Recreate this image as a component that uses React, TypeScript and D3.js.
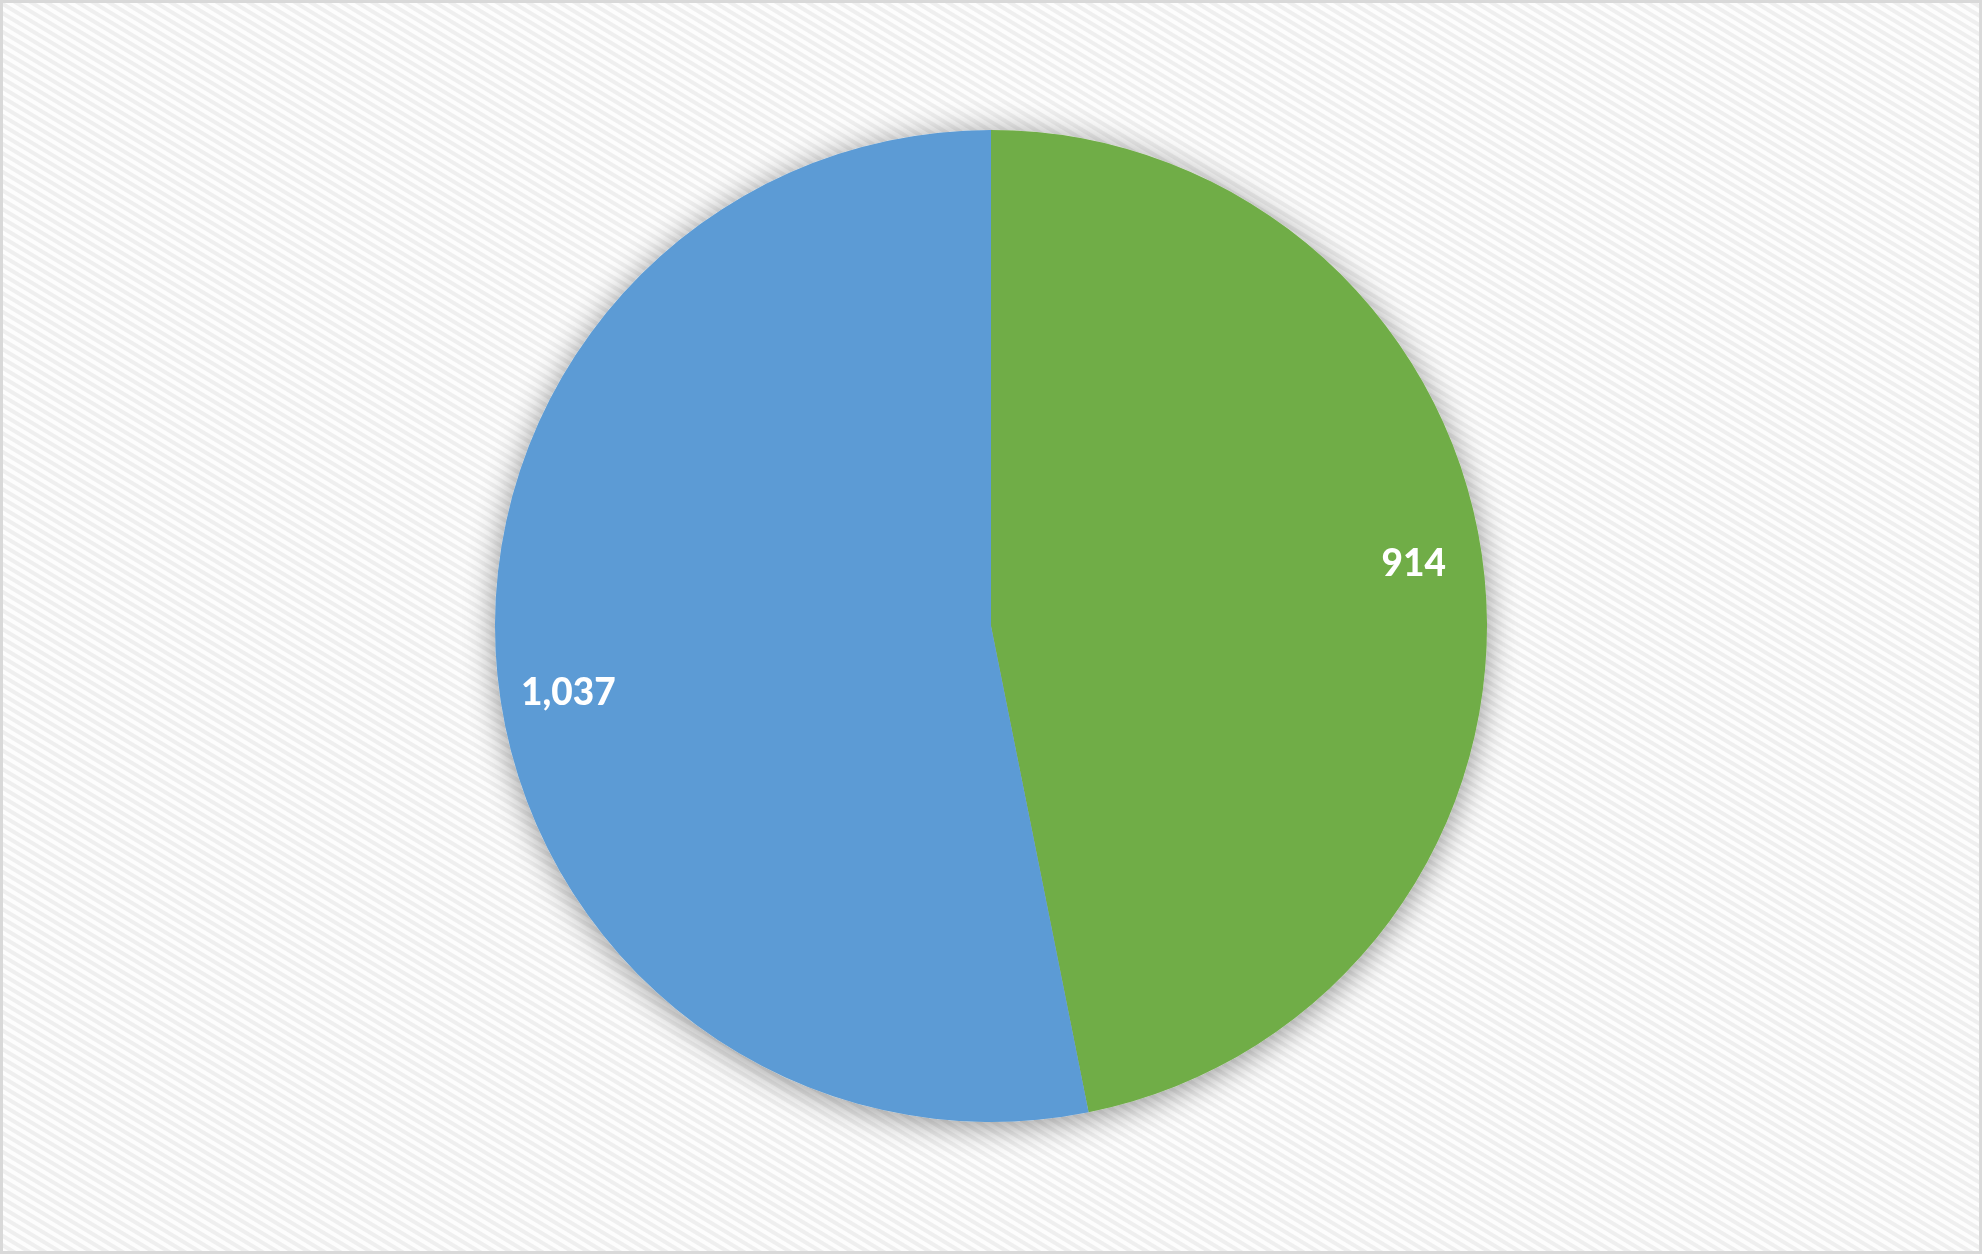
import React from "react";
import * as d3 from "d3";

const categories = ["B", "A"];
const values = [914, 1037];
const colors = ["#70AD47", "#5B9BD5"];

const W = 1982;
const H = 1254;

export default function App() {
  const cx = 991;
  const cy = 626;
  const r = 496;
  const data = categories.map((c, i) => ({ cat: c, value: values[i], color: colors[i] }));
  const pie = d3.pie<any>().sort(null).value((d: any) => d.value);
  const arcs = pie(data);
  const arc = d3.arc<any>().innerRadius(0).outerRadius(r);
  const labelArc = d3.arc<any>().innerRadius(r * 0.862).outerRadius(r * 0.862);
  const fmt = d3.format(",");
  const labelShift = -0.052;

  return (
    <div style={{ position: "fixed", left: 0, top: 0 }}>
      <svg width={W} height={H} style={{ display: "block" }}>
        <defs>
          <pattern
            id="bg"
            patternUnits="userSpaceOnUse"
            width={16}
            height={8}
            patternTransform="rotate(31)"
          >
            <rect width={16} height={8} fill="#fdfdfd" />
            <rect width={16} height={4} fill="#efefef" />
          </pattern>
          <filter id="shadow" x="-20%" y="-20%" width="140%" height="140%">
            <feGaussianBlur in="SourceAlpha" stdDeviation="16" />
            <feOffset dx="0" dy="4" result="b" />
            <feComponentTransfer>
              <feFuncA type="linear" slope="0.42" />
            </feComponentTransfer>
            <feMerge>
              <feMergeNode />
              <feMergeNode in="SourceGraphic" />
            </feMerge>
          </filter>
        </defs>
        <rect x={0} y={0} width={W} height={H} fill="url(#bg)" />
        <rect x={1.5} y={1.5} width={W - 3} height={H - 3} fill="none" stroke="#d9d9d9" strokeWidth={3} />
        <g transform={`translate(${cx},${cy})`}>
          <g filter="url(#shadow)">
            {arcs.map((a, i) => (
              <path key={i} d={arc(a) as string} fill={a.data.color} />
            ))}
          </g>
          {arcs.map((a, i) => {
            const [x, y] = labelArc.centroid({
              startAngle: a.startAngle + labelShift,
              endAngle: a.endAngle + labelShift,
            } as any);
            return (
              <text
                key={"l" + i}
                x={x}
                y={y}
                textAnchor="middle"
                dominantBaseline="central"
                fill="#ffffff"
                fontFamily="Lato, 'Open Sans', sans-serif"
                fontWeight={900}
                fontSize={37}
              >
                {fmt(a.data.value)}
              </text>
            );
          })}
        </g>
      </svg>
    </div>
  );
}
